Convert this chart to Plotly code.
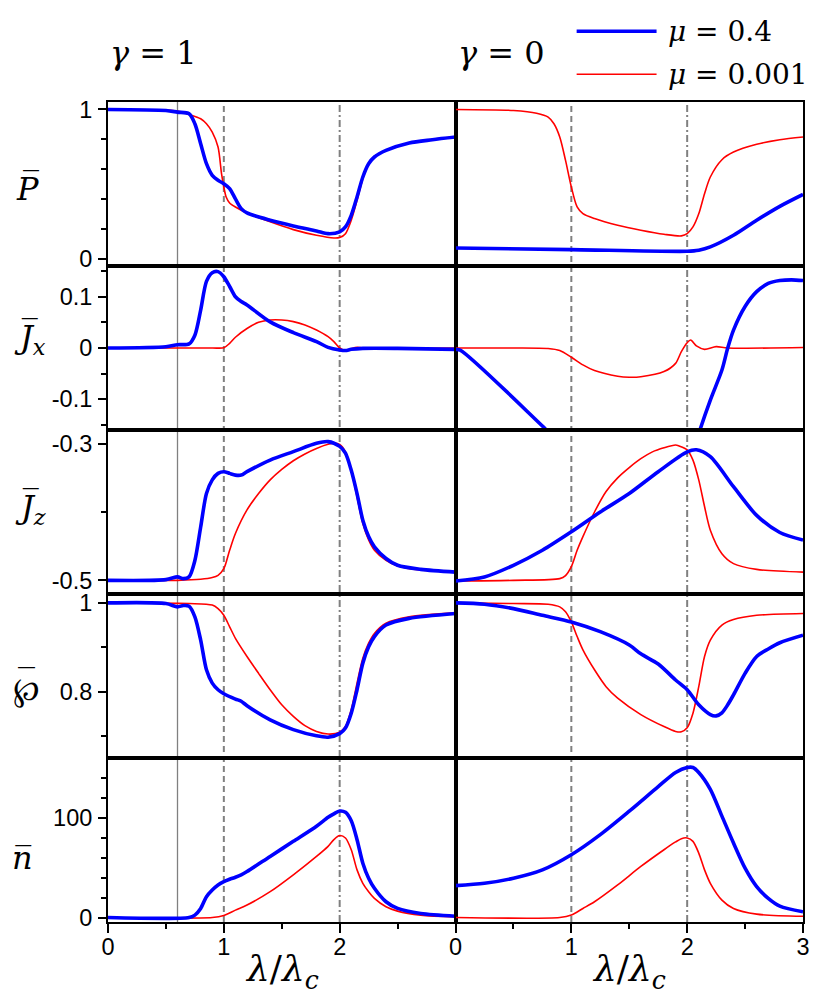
import plotly.graph_objects as go
from plotly.subplots import make_subplots

# ---- data (x = lambda / lambda_c) ----
# row 1: P bar
p_g1_blue_x = [0, 0.5, 0.6, 0.7, 0.75, 0.8, 0.85, 0.9, 0.95, 1.0, 1.05, 1.1, 1.15, 1.2, 1.4, 1.6, 1.8, 1.9, 2.0, 2.05, 2.1, 2.15, 2.2, 2.25, 2.3, 2.4, 2.6, 2.8, 3.0]
p_g1_blue_y = [1.0, 0.993, 0.982, 0.971, 0.904, 0.77, 0.636, 0.558, 0.525, 0.502, 0.469, 0.40, 0.335, 0.306, 0.257, 0.219, 0.185, 0.167, 0.179, 0.212, 0.29, 0.413, 0.547, 0.636, 0.681, 0.725, 0.775, 0.797, 0.815]
p_g1_red_x = [0, 0.6, 0.7, 0.8, 0.85, 0.9, 0.95, 0.98, 1.0, 1.02, 1.05, 1.1, 1.2, 1.4, 1.6, 1.8, 1.95, 2.0, 2.05, 2.1, 2.15, 2.2, 2.25, 2.3, 2.4, 2.6, 2.8, 3.0]
p_g1_red_y = [1.0, 0.99, 0.967, 0.9375, 0.904, 0.848, 0.748, 0.57, 0.48, 0.413, 0.373, 0.346, 0.306, 0.246, 0.194, 0.156, 0.138, 0.141, 0.167, 0.257, 0.39, 0.536, 0.636, 0.685, 0.725, 0.775, 0.80, 0.819]
p_g0_blue_x = [0, 1.0, 2.0, 2.1, 2.2, 2.4, 2.6, 2.8, 3.0]
p_g0_blue_y = [0.071, 0.060, 0.049, 0.056, 0.078, 0.156, 0.257, 0.35, 0.43]
p_g0_red_x = [0, 0.5, 0.7, 0.8, 0.85, 0.9, 0.95, 1.0, 1.05, 1.1, 1.2, 1.4, 1.6, 1.8, 1.95, 2.0, 2.05, 2.1, 2.15, 2.2, 2.3, 2.4, 2.6, 2.8, 3.0]
p_g0_red_y = [1.0, 0.993, 0.975, 0.949, 0.904, 0.815, 0.658, 0.48, 0.346, 0.301, 0.268, 0.223, 0.19, 0.163, 0.152, 0.167, 0.212, 0.30, 0.435, 0.547, 0.663, 0.714, 0.766, 0.797, 0.815]

# row 2: Jx bar
jx_g1_blue_x = [0, 0.5, 0.6, 0.7, 0.75, 0.8, 0.85, 0.9, 0.95, 1.0, 1.05, 1.1, 1.15, 1.2, 1.4, 1.6, 1.8, 1.9, 2.0, 2.05, 2.1, 2.2, 2.5, 3.0]
jx_g1_blue_y = [0, 0.0026, 0.0065, 0.008, 0.025, 0.074, 0.13, 0.147, 0.149, 0.139, 0.12, 0.10, 0.0906, 0.084, 0.051, 0.030, 0.0124, 0.0013, -0.0039, -0.005, -0.0026, -0.0007, -0.0007, -0.0026]
jx_g1_red_x = [0, 0.9, 1.0, 1.05, 1.1, 1.2, 1.3, 1.4, 1.5, 1.6, 1.7, 1.8, 1.9, 1.95, 2.0, 2.05, 2.1, 2.15, 2.2, 3.0]
jx_g1_red_y = [0, 0, 0.0005, 0.009, 0.021, 0.038, 0.050, 0.0547, 0.0547, 0.0515, 0.045, 0.035, 0.022, 0.0124, 0.0, -0.005, -0.0013, 0.0013, 0, 0]
jx_g0_blue_x = [0, 0.04, 0.787, 1.0, 1.5, 2.0, 2.11, 2.2, 2.3, 2.35, 2.4, 2.5, 2.6, 2.7, 2.8, 2.9, 3.0]
jx_g0_blue_y = [-0.003, -0.004, -0.16, -0.205, -0.31, -0.24, -0.16, -0.1016, -0.043, 0, 0.035, 0.081, 0.110, 0.126, 0.1316, 0.133, 0.1316]
jx_g0_red_x = [0, 0.5, 0.8, 0.9, 1.0, 1.1, 1.2, 1.4, 1.5, 1.6, 1.8, 1.9, 1.95, 2.0, 2.03, 2.08, 2.15, 2.25, 2.35, 3.0]
jx_g0_red_y = [0, 0, -0.001, -0.005, -0.018, -0.033, -0.044, -0.055, -0.057, -0.056, -0.046, -0.030, -0.007, 0.0104, 0.0156, 0.004, -0.0026, 0.0026, 0, 0.001]

# row 3: Jz bar
jz_g1_blue_x = [0, 0.5, 0.6, 0.65, 0.7, 0.75, 0.8, 0.85, 0.9, 0.95, 1.0, 1.05, 1.1, 1.15, 1.2, 1.4, 1.6, 1.8, 1.9, 2.0, 2.05, 2.1, 2.15, 2.2, 2.25, 2.3, 2.4, 2.5, 2.7, 3.0]
jz_g1_blue_y = [-0.5, -0.499, -0.495, -0.4975, -0.495, -0.471, -0.422, -0.373, -0.353, -0.3435, -0.341, -0.3435, -0.346, -0.346, -0.341, -0.324, -0.3117, -0.2995, -0.297, -0.304, -0.314, -0.339, -0.373, -0.412, -0.436, -0.451, -0.468, -0.478, -0.484, -0.488]
jz_g1_red_x = [0, 0.6, 0.8, 0.9, 0.95, 1.0, 1.05, 1.1, 1.2, 1.3, 1.4, 1.5, 1.6, 1.7, 1.8, 1.9, 1.95, 2.0, 2.05, 2.1, 2.15, 2.2, 2.25, 2.3, 2.4, 2.5, 2.7, 3.0]
jz_g1_red_y = [-0.5, -0.5, -0.4985, -0.496, -0.4927, -0.483, -0.456, -0.4315, -0.397, -0.373, -0.353, -0.3377, -0.325, -0.315, -0.307, -0.301, -0.2995, -0.301, -0.312, -0.339, -0.378, -0.417, -0.441, -0.456, -0.4707, -0.479, -0.485, -0.488]
jz_g0_blue_x = [0, 0.25, 0.5, 0.75, 1.0, 1.25, 1.5, 1.75, 2.0, 2.08, 2.2, 2.4, 2.6, 2.8, 3.0]
jz_g0_blue_y = [-0.501, -0.495, -0.478, -0.456, -0.429, -0.40, -0.373, -0.341, -0.312, -0.309, -0.319, -0.363, -0.405, -0.43, -0.441]
jz_g0_red_x = [0, 0.5, 0.9, 0.95, 1.0, 1.05, 1.1, 1.2, 1.3, 1.4, 1.5, 1.6, 1.7, 1.8, 1.9, 1.93, 2.0, 2.05, 2.1, 2.15, 2.2, 2.3, 2.4, 2.6, 3.0]
jz_g0_red_y = [-0.501, -0.5, -0.4975, -0.493, -0.48, -0.456, -0.436, -0.40, -0.37, -0.35, -0.335, -0.322, -0.312, -0.306, -0.302, -0.3034, -0.309, -0.324, -0.353, -0.392, -0.4266, -0.461, -0.4755, -0.484, -0.488]

# row 4: weierstrass-p bar
w_g1_blue_x = [0, 0.5, 0.6, 0.65, 0.7, 0.75, 0.8, 0.85, 0.9, 0.95, 1.0, 1.1, 1.15, 1.2, 1.4, 1.6, 1.8, 1.9, 2.0, 2.05, 2.1, 2.15, 2.2, 2.25, 2.3, 2.4, 2.6, 3.0]
w_g1_blue_y = [1.0, 0.9985, 0.991, 0.994, 0.9925, 0.9685, 0.916, 0.849, 0.819, 0.804, 0.795, 0.783, 0.778, 0.768, 0.736, 0.714, 0.70, 0.697, 0.705, 0.7176, 0.751, 0.804, 0.864, 0.901, 0.924, 0.95, 0.965, 0.976]
w_g1_red_x = [0, 0.7, 0.9, 0.95, 1.0, 1.05, 1.1, 1.2, 1.3, 1.4, 1.5, 1.6, 1.7, 1.8, 1.9, 2.0, 2.05, 2.1, 2.15, 2.2, 2.25, 2.3, 2.4, 2.6, 3.0]
w_g1_red_y = [1.0, 0.9985, 0.995, 0.987, 0.972, 0.946, 0.92, 0.879, 0.841, 0.804, 0.77, 0.744, 0.723, 0.71, 0.704, 0.708, 0.721, 0.759, 0.819, 0.875, 0.909, 0.931, 0.954, 0.9685, 0.9775]
w_g0_blue_x = [0, 0.25, 0.5, 0.75, 1.0, 1.25, 1.5, 1.6, 1.75, 1.9, 2.0, 2.1, 2.2, 2.25, 2.3, 2.35, 2.4, 2.5, 2.6, 2.7, 2.8, 3.0]
w_g0_blue_y = [1.0, 0.997, 0.987, 0.972, 0.957, 0.935, 0.905, 0.885, 0.862, 0.826, 0.804, 0.77, 0.748, 0.745, 0.752, 0.77, 0.7925, 0.841, 0.879, 0.896, 0.91, 0.927]
w_g0_red_x = [0, 0.5, 0.8, 0.9, 0.95, 1.0, 1.05, 1.1, 1.2, 1.3, 1.4, 1.6, 1.8, 1.9, 1.95, 2.0, 2.05, 2.1, 2.15, 2.2, 2.3, 2.4, 2.6, 3.0]
w_g0_red_y = [1.0, 0.9985, 0.997, 0.991, 0.98, 0.957, 0.924, 0.894, 0.849, 0.811, 0.785, 0.748, 0.721, 0.71, 0.709, 0.718, 0.751, 0.811, 0.879, 0.916, 0.95, 0.9625, 0.972, 0.976]

# row 5: n bar
n_g1_blue_x = [0, 0.7, 0.75, 0.8, 0.85, 0.9, 0.95, 1.0, 1.05, 1.1, 1.15, 1.2, 1.4, 1.6, 1.8, 1.9, 1.95, 2.0, 2.05, 2.1, 2.15, 2.2, 2.25, 2.3, 2.4, 2.5, 2.7, 3.0]
n_g1_blue_y = [0, 0, 2.4, 9.1, 20.9, 27.6, 32.7, 36, 38.4, 40.4, 42.8, 46.1, 61.3, 76.4, 91.6, 100.5, 104, 106.8, 105.5, 97, 78.1, 54.5, 39.4, 29.3, 15.8, 9.1, 4.0, 1.3]
n_g1_red_x = [0, 0.9, 1.0, 1.1, 1.2, 1.4, 1.6, 1.8, 1.9, 1.95, 2.0, 2.05, 2.1, 2.15, 2.2, 2.25, 2.3, 2.4, 2.5, 2.7, 3.0]
n_g1_red_y = [0, 0, 2.0, 7.4, 12.5, 25.9, 42.8, 61.3, 71.4, 78.1, 82.2, 79.8, 68, 47.8, 34.3, 25.9, 19.2, 10.8, 6.4, 2.4, 0.7]
n_g0_blue_x = [0, 0.25, 0.5, 0.75, 1.0, 1.25, 1.5, 1.75, 1.9, 2.0, 2.05, 2.1, 2.2, 2.3, 2.4, 2.5, 2.6, 2.7, 2.8, 3.0]
n_g0_blue_y = [32, 34.3, 39.4, 47.8, 63, 83.2, 106.7, 131.3, 145.5, 150.5, 150.5, 145.5, 128.6, 101.7, 74.7, 49.5, 31, 19.2, 11.4, 5.7]
n_g0_red_x = [0, 0.9, 1.0, 1.1, 1.2, 1.4, 1.6, 1.8, 1.9, 1.95, 2.0, 2.05, 2.1, 2.15, 2.2, 2.3, 2.4, 2.6, 3.0]
n_g0_red_y = [0, 0, 2.4, 9.1, 15.8, 32.7, 51.2, 68, 75.8, 79.1, 79.8, 76.4, 64.6, 47.8, 34.3, 17.5, 9.1, 3.4, 1.3]

# axis ranges and tick labels per row
y_ranges = [[-0.05, 1.05], [-0.16, 0.16], [-0.52, -0.28], [0.65, 1.02], [-4.5, 160]]
y_tickvals = [[0, 1], [-0.1, 0, 0.1], [-0.5, -0.3], [0.8, 1], [0, 100]]
y_ticktext = [["0", "1"], ["-0.1", "0", "0.1"], ["-0.5", "-0.3"], ["0.8", "1"], ["0", "100"]]
y_minor = [[0.2, 0.4, 0.6, 0.8], [-0.15, -0.05, 0.05, 0.15], [-0.4], [0.7, 0.9], [20, 40, 60, 80, 120, 140]]
y_labels = ["<i>P̅</i>", "<i>J̅</i><sub><i>x</i></sub>", "<i>J̅</i><sub><i>z</i></sub>", "℘", "<i>n̅</i>"]
y_label_x = [-0.116, -0.112, -0.112, -0.117, -0.123]
y_label_y = [0.895, 0.712, 0.504, 0.284, 0.078]

panels = [
    [(p_g1_blue_x, p_g1_blue_y, p_g1_red_x, p_g1_red_y), (p_g0_blue_x, p_g0_blue_y, p_g0_red_x, p_g0_red_y)],
    [(jx_g1_blue_x, jx_g1_blue_y, jx_g1_red_x, jx_g1_red_y), (jx_g0_blue_x, jx_g0_blue_y, jx_g0_red_x, jx_g0_red_y)],
    [(jz_g1_blue_x, jz_g1_blue_y, jz_g1_red_x, jz_g1_red_y), (jz_g0_blue_x, jz_g0_blue_y, jz_g0_red_x, jz_g0_red_y)],
    [(w_g1_blue_x, w_g1_blue_y, w_g1_red_x, w_g1_red_y), (w_g0_blue_x, w_g0_blue_y, w_g0_red_x, w_g0_red_y)],
    [(n_g1_blue_x, n_g1_blue_y, n_g1_red_x, n_g1_red_y), (n_g0_blue_x, n_g0_blue_y, n_g0_red_x, n_g0_red_y)],
]

BLUE = "#0000ff"
RED = "#ff0000"
GRAY = "#808080"
TICK_FONT = dict(family="Liberation Sans", size=23.5, color="black")
MATH_FONT = "DejaVu Serif"

fig = make_subplots(rows=5, cols=2, horizontal_spacing=0, vertical_spacing=0)

for r, row in enumerate(panels):
    for c, (bx, by, rx, ry) in enumerate(row):
        fig.add_trace(go.Scatter(x=rx, y=ry, mode="lines", line=dict(color=RED, width=1.6, shape="spline", smoothing=0.8),
                                 showlegend=False), row=r + 1, col=c + 1)
        fig.add_trace(go.Scatter(x=bx, y=by, mode="lines", line=dict(color=BLUE, width=3.6, shape="spline", smoothing=0.8),
                                 showlegend=False), row=r + 1, col=c + 1)

# frame on every panel
fig.update_xaxes(range=[0, 3], showline=True, mirror=True, linecolor="black", linewidth=2,
                 showgrid=False, zeroline=False, showticklabels=False, ticks="")
fig.update_yaxes(showline=True, mirror=True, linecolor="black", linewidth=2,
                 showgrid=False, zeroline=False, showticklabels=False, ticks="")

# bottom row x ticks (left column skips the "3" label, the right "0" sits there)
x_tick_sets = {1: ([0, 1, 2], [0.5, 1.5, 2.5, 3]), 2: ([0, 1, 2, 3], [0.5, 1.5, 2.5])}
for c, (major, minor) in x_tick_sets.items():
    fig.update_xaxes(row=5, col=c, ticks="outside", ticklen=9, tickwidth=1.5, tickcolor="black",
                     tickvals=major, ticktext=[str(v) for v in major], showticklabels=True,
                     tickfont=TICK_FONT, ticklabelstandoff=-6,
                     minor=dict(tickmode="array", tickvals=minor, ticks="outside", ticklen=5,
                                tickwidth=1.5, tickcolor="black"))

for r in range(5):
    for c in (1, 2):
        fig.update_yaxes(row=r + 1, col=c, range=y_ranges[r])
    fig.update_yaxes(row=r + 1, col=1, ticks="outside", ticklen=8, tickwidth=1.5, tickcolor="black",
                     tickvals=y_tickvals[r], ticktext=y_ticktext[r], showticklabels=True,
                     tickfont=TICK_FONT, ticklabelstandoff=1,
                     minor=dict(tickmode="array", tickvals=y_minor[r], ticks="outside", ticklen=5,
                                tickwidth=1.5, tickcolor="black"))
    fig.add_annotation(text=y_labels[r], xref="paper", yref="paper", x=y_label_x[r], y=y_label_y[r],
                       xanchor="center", yanchor="middle", showarrow=False,
                       font=dict(family=MATH_FONT, size=32, color="black"))

# overline for the weierstrass-p label
fig.add_annotation(text="‾", xref="paper", yref="paper", x=y_label_x[3], y=y_label_y[3] + 0.011,
                   xanchor="center", yanchor="middle", showarrow=False,
                   font=dict(family=MATH_FONT, size=34, color="black"))

# reference lines spanning every row of each column
for xref, lines in (("x", [(0.6, "solid", 1.3), (1, "6px,4px", 2), (2, "7px,3px,2px,3px", 2)]),
                    ("x2", [(1, "6px,4px", 2), (2, "7px,3px,2px,3px", 2)])):
    for xv, dash, w in lines:
        fig.add_shape(type="line", xref=xref, yref="paper", x0=xv, x1=xv, y0=0, y1=1,
                      line=dict(color=GRAY, width=w, dash=dash), layer="below")

# column titles
for xp, txt in ((0.0, "<i>γ</i> = 1"), (0.5, "<i>γ</i> = 0")):
    fig.add_annotation(text=txt, xref="paper", yref="paper", x=xp, y=1.06, xanchor="left", yanchor="middle",
                       showarrow=False, font=dict(family=MATH_FONT, size=32, color="black"))

# x axis titles
for xp in (0.25, 0.75):
    fig.add_annotation(text="<i>λ</i>/<i>λ</i><sub><i>c</i></sub>", xref="paper", yref="paper", x=xp, y=-0.06,
                       xanchor="center", yanchor="middle", showarrow=False,
                       font=dict(family=MATH_FONT, size=36, color="black"))

# legend drawn by hand (long swatches as in the original)
for yp, col, w, txt in ((1.0862, BLUE, 3.6, "<i>μ</i> = 0.4"), (1.0338, RED, 1.6, "<i>μ</i> = 0.001")):
    fig.add_shape(type="line", xref="paper", yref="paper", x0=0.6743, x1=0.7893, y0=yp, y1=yp,
                  line=dict(color=col, width=w))
    fig.add_annotation(text=txt, xref="paper", yref="paper", x=0.8027, y=yp, xanchor="left", yanchor="middle",
                       showarrow=False, font=dict(family=MATH_FONT, size=28, color="black"))

# the page body adds an 8px offset, so margins are shifted to keep the plot area in place
fig.update_layout(width=830, height=997, margin=dict(l=99.5, r=34.7, t=93.7, b=83.3),
                  plot_bgcolor="white", paper_bgcolor="white", showlegend=False)

fig.write_html("out.html")
